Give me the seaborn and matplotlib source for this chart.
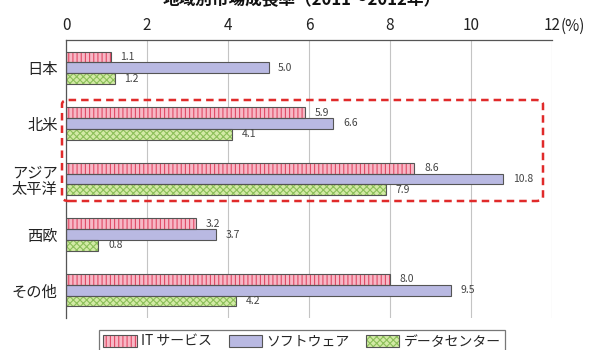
import numpy as np
import pandas as pd
import seaborn as sns
import matplotlib.pyplot as plt
from matplotlib.patches import Rectangle, Patch, FancyBboxPatch
from matplotlib.legend_handler import HandlerTuple

# data
regions = ['日本', '北米', 'アジア\n太平洋', '西欧', 'その他']
segments = ['IT サービス', 'ソフトウェア', 'データセンター']
it_service = [1.1, 5.9, 8.6, 3.2, 8.0]
software = [5.0, 6.6, 10.8, 3.7, 9.5]
datacenter = [1.2, 4.1, 7.9, 0.8, 4.2]
x_ticks = [0, 2, 4, 6, 8, 10, 12]
title = '地域別市場成長率（2011～2012年）'

fills = ['#f7b8c6', '#b9b9e2', '#d3eaa6']
hatch_cols = ['#e04a66', '#b9b9e2', '#8cbf5a']
hatches = ['||||', '', 'xxxxx']

df = pd.DataFrame({
    'region': regions * 3,
    'segment': np.repeat(segments, len(regions)),
    'value': it_service + software + datacenter,
})

sns.set_style('white')
plt.rcParams['font.family'] = ['Noto Sans CJK JP', 'DejaVu Sans']
plt.rcParams['hatch.linewidth'] = 0.8

fig = plt.figure(figsize=(6.03, 3.5), dpi=100)
ax = fig.add_axes([0.1095, 0.0914, 0.9154 - 0.1095, 0.8857 - 0.0914])

sns.barplot(data=df, x='value', y='region', hue='segment', orient='h',
            palette=fills, width=0.58, legend=False, ax=ax, saturation=1)

# hatch fill + dark outline
for i, cont in enumerate(ax.containers):
    for bar in cont:
        bar.set_hatch(hatches[i])
        bar.set_edgecolor(hatch_cols[i])
        bar.set_linewidth(0)
        ax.add_patch(Rectangle(bar.get_xy(), bar.get_width(), bar.get_height(),
                               fill=False, edgecolor='#555555', lw=0.8, zorder=3))
    ax.bar_label(cont, fmt='%.1f', padding=7, fontsize=7.5, color='#444444')

ax.set_xlim(0, 12)
ax.set_xlabel('')
ax.set_ylabel('')
ax.xaxis.tick_top()
ax.set_xticks(x_ticks)
ax.set_xticklabels([str(t) for t in x_ticks], fontsize=11, color='#222222')
ax.tick_params(axis='x', length=0, pad=4)
# unit right after the last tick label
ax.annotate('(%)', xy=(12, 1.0), xycoords=('data', 'axes fraction'),
            xytext=(6, 4), textcoords='offset points', fontsize=11,
            color='#222222', ha='left', va='bottom', annotation_clip=False)
ax.xaxis.grid(True, color='#c4c4c4', lw=0.8)
ax.set_axisbelow(True)

ax.set_yticks(range(len(regions)))
ax.set_yticklabels(regions, fontsize=11, color='#222222', linespacing=1.0)
ax.tick_params(axis='y', length=0, pad=6)
ax.set_yticks([0.5, 1.5, 2.5, 3.5, 4.5], minor=True)
ax.tick_params(axis='y', which='minor', direction='in', length=5, color='#777777', width=0.8)

for s in ['right', 'bottom']:
    ax.spines[s].set_visible(False)
for s in ['top', 'left']:
    ax.spines[s].set_color('#555555')
    ax.spines[s].set_linewidth(0.9)

# highlight box around 北米 / アジア太平洋
box = FancyBboxPatch((62 / 603, 1 - 201 / 350), (543 - 62) / 603, 101 / 350,
                     boxstyle='round,pad=0,rounding_size=0.012',
                     transform=fig.transFigure, fill=False, edgecolor='#e02a2a',
                     lw=1.8, ls=(0, (3, 2)), clip_on=False, zorder=5)
fig.patches.append(box)

# legend
handles = []
for i in range(3):
    handles.append((Patch(facecolor=fills[i], edgecolor=hatch_cols[i], hatch=hatches[i], lw=0),
                    Patch(facecolor='none', edgecolor='#555555', lw=0.8)))
leg = fig.legend(handles, segments, handler_map={tuple: HandlerTuple(ndivide=1)},
                 loc='upper center', bbox_to_anchor=(302 / 603, 1 - 323 / 350),
                 ncol=3, fontsize=10, frameon=True, fancybox=False,
                 handlelength=2.4, handleheight=1.0, handletextpad=0.3,
                 columnspacing=1.2, borderpad=0.35)
leg.get_frame().set_edgecolor('#555555')
leg.get_frame().set_linewidth(0.9)

# title, cut off at the top as in the source
fig.text(0.5, 1 - 9 / 350, title, ha='center', va='bottom', fontsize=12,
         fontweight='bold', color='#111111')

fig.savefig('out.png', dpi=100)
